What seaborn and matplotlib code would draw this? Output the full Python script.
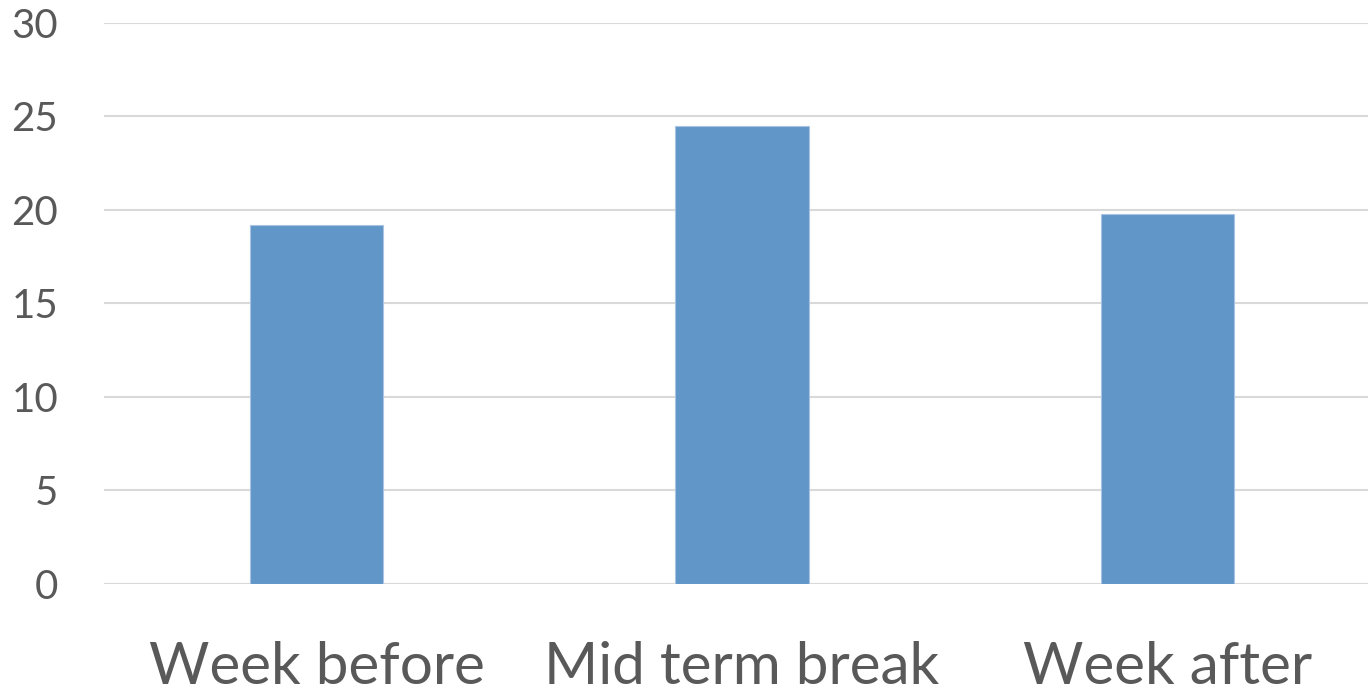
import matplotlib
matplotlib.use("Agg")
import matplotlib.pyplot as plt
import seaborn as sns
import pandas as pd

periods = ["Week before", "Mid term break", "Week after"]
values = [19.2, 24.5, 19.8]
yticks = [0, 5, 10, 15, 20, 25, 30]

df = pd.DataFrame({"period": periods, "value": values})

sns.set_style("white")
plt.rcParams['font.family'] = ['Lato', 'DejaVu Sans']

fig = plt.figure(figsize=(13.68, 6.98), dpi=100)
ax = fig.add_axes([104 / 1368, 1 - 584 / 698, 1276 / 1368, (584 - 22.7) / 698])

sns.barplot(data=df, x="period", y="value", color="#6196C9", width=0.314,
            edgecolor="#A9C4E0", linewidth=0.8, saturation=1, ax=ax, zorder=3)

ax.set_ylim(0, 30)
ax.set_xlim(-0.5, 2.5)
ax.set_yticks(yticks)
ax.yaxis.grid(True, color="#D9D9D9", linewidth=1.5, zorder=0)
ax.set_axisbelow(True)
for s in ax.spines.values():
    s.set_visible(False)
ax.set_xlabel("")
ax.set_ylabel("")
ax.tick_params(axis="y", length=0, pad=33, labelsize=29, labelcolor="#595959")
ax.tick_params(axis="x", length=0, pad=41, labelsize=42, labelcolor="#595959")

fig.savefig("out.png", dpi=100)
